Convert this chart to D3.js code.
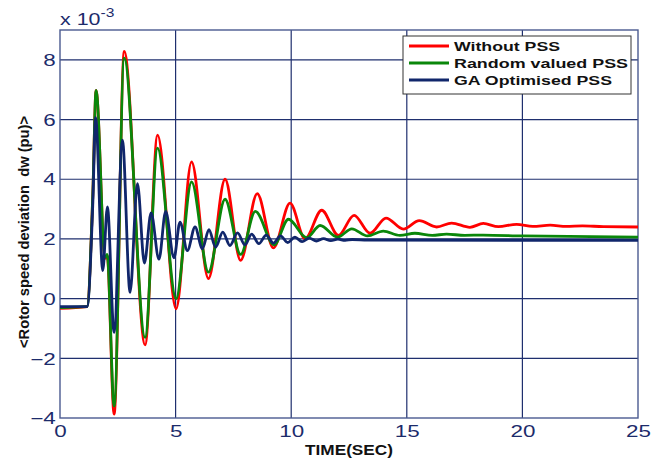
<!DOCTYPE html>
<html>
<head>
<meta charset="utf-8">
<script src="https://cdn.jsdelivr.net/npm/d3@7"></script>
<style>
  body { margin: 0; background: #fff; }
  svg { display: block; font-family: "Liberation Sans", Arial, sans-serif; }
</style>
</head>
<body>
<div id="chart"></div>
<script>
// values (time in s, deviation in 1e-3 pu)
const tWithout = [0, 1.17, 1.42, 1.56, 1.95, 2.04, 2.34, 2.78, 3.68, 4.22, 5.02, 5.69, 6.42, 7.14, 7.81, 8.53, 9.23, 9.95, 10.6, 11.32, 12.04, 12.72, 13.41, 14.1, 14.85, 15.54, 16.29, 16.94, 17.73, 18.31, 18.96, 19.75, 20.45, 21.2, 21.9, 22.6, 23.5, 25];
const vWithout = [-0.33, -0.27, 3.5, 6.98, 1.35, 1.45, -3.87, 8.28, -1.55, 5.48, -0.34, 4.58, 0.67, 4.0, 1.28, 3.52, 1.7, 3.2, 2.0, 2.96, 2.12, 2.79, 2.19, 2.7, 2.33, 2.61, 2.4, 2.53, 2.39, 2.52, 2.41, 2.49, 2.42, 2.46, 2.42, 2.44, 2.41, 2.4];

const tRandom = [0, 1.17, 1.42, 1.56, 1.95, 2.04, 2.34, 2.78, 3.68, 4.22, 5.02, 5.69, 6.42, 7.14, 7.81, 8.45, 9.26, 9.88, 10.67, 11.25, 12.0, 12.62, 13.3, 13.98, 14.7, 15.35, 16.1, 16.72, 17.5, 18.3, 20, 25];
const vRandom = [-0.3, -0.27, 3.5, 6.98, 1.39, 1.48, -3.6, 8.06, -1.3, 5.04, 0.0, 3.91, 0.89, 3.33, 1.48, 2.92, 1.8, 2.66, 2.04, 2.45, 2.06, 2.34, 2.1, 2.26, 2.12, 2.19, 2.12, 2.16, 2.12, 2.13, 2.1, 2.06];

const tGA = [0, 1.17, 1.42, 1.54, 1.85, 2.05, 2.34, 2.7, 3.03, 3.35, 3.65, 3.94, 4.28, 4.57, 4.93, 5.19, 5.51, 5.84, 6.16, 6.44, 6.73, 7.04, 7.35, 7.68, 8.0, 8.29, 8.6, 8.92, 9.23, 9.54, 9.85, 10.16, 10.47, 10.78, 11.09, 11.4, 11.71, 12.02, 12.33, 12.64, 13.3, 25];
const vGA = [-0.27, -0.27, 3.2, 6.06, 0.94, 3.07, -1.13, 5.31, 0.21, 3.85, 1.19, 2.87, 1.32, 2.92, 1.37, 2.56, 1.61, 2.4, 1.67, 2.31, 1.72, 2.23, 1.78, 2.2, 1.8, 2.16, 1.84, 2.13, 1.86, 2.1, 1.88, 2.06, 1.91, 2.03, 1.93, 2.01, 1.94, 1.99, 1.95, 1.98, 1.96, 1.95];

const seriesNames = ['Without PSS', 'Random valued PSS', 'GA Optimised PSS'];
const seriesColors = ['#ff0000', '#0a870a', '#10266b'];
const xTicks = [0, 5, 10, 15, 20, 25];
const yTicks = [-4, -2, 0, 2, 4, 6, 8];

const series = [
  { name: seriesNames[0], color: seriesColors[0], points: tWithout.map((t, i) => ({ t: t, v: vWithout[i] })) },
  { name: seriesNames[1], color: seriesColors[1], points: tRandom.map((t, i) => ({ t: t, v: vRandom[i] })) },
  { name: seriesNames[2], color: seriesColors[2], points: tGA.map((t, i) => ({ t: t, v: vGA[i] })) }
];

const containerWidth = 664;
const containerHeight = 459;
const margin = { top: 30, right: 26, bottom: 41, left: 60 };
const width = containerWidth - margin.left - margin.right;
const height = containerHeight - margin.top - margin.bottom;

const gridColor = '#1f2f6e';
const tickColor = '#1c2b6b';

const root = d3.select('#chart')
  .append('svg')
  .attr('width', containerWidth)
  .attr('height', containerHeight)
  .attr('viewBox', `0 0 ${containerWidth} ${containerHeight}`);

const svg = root.append('g')
  .attr('transform', `translate(${margin.left},${margin.top})`);

const x = d3.scaleLinear().domain([0, 25]).range([0, width]);
const y = d3.scaleLinear().domain([-4, 9]).range([height, 0]);

// grid
svg.append('g')
  .selectAll('line')
  .data(xTicks.slice(1, -1))
  .join('line')
  .attr('x1', d => x(d)).attr('x2', d => x(d))
  .attr('y1', 0).attr('y2', height)
  .attr('stroke', gridColor)
  .attr('stroke-width', 1.2);

svg.append('g')
  .selectAll('line')
  .data(yTicks.slice(1))
  .join('line')
  .attr('x1', 0).attr('x2', width)
  .attr('y1', d => y(d)).attr('y2', d => y(d))
  .attr('stroke', gridColor)
  .attr('stroke-width', 1.2);

// frame
svg.append('rect')
  .attr('width', width)
  .attr('height', height)
  .attr('fill', 'none')
  .attr('stroke', '#4a5a90')
  .attr('stroke-width', 1.4);

// axes (labels only, ticks hidden under the grid)
const xAxis = svg.append('g')
  .attr('transform', `translate(0,${height})`)
  .call(d3.axisBottom(x).tickValues(xTicks).tickSize(0).tickPadding(0));

xAxis.select('.domain').remove();
xAxis.selectAll('text')
  .attr('y', 19)
  .attr('dy', 0)
  .attr('transform', 'scale(1.4,1)')
  .attr('font-size', 16)
  .attr('font-family', '"Liberation Sans", Arial, sans-serif')
  .attr('fill', tickColor);

const yAxis = svg.append('g')
  .call(d3.axisLeft(y).tickValues(yTicks).tickSize(0).tickPadding(0));

yAxis.select('.domain').remove();
yAxis.selectAll('text')
  .attr('x', -3)
  .attr('dy', '0.36em')
  .attr('transform', 'scale(1.4,1)')
  .attr('font-size', 16)
  .attr('font-family', '"Liberation Sans", Arial, sans-serif')
  .attr('fill', tickColor);

// curves
svg.append('clipPath').attr('id', 'plot-clip')
  .append('rect')
  .attr('width', width)
  .attr('height', height);

const line = d3.line()
  .x(d => x(d.t))
  .y(d => y(d.v))
  .curve(d3.curveMonotoneX);

svg.append('g')
  .attr('clip-path', 'url(#plot-clip)')
  .selectAll('path')
  .data(series)
  .join('path')
  .attr('fill', 'none')
  .attr('stroke', d => d.color)
  .attr('stroke-width', 2.8)
  .attr('stroke-linejoin', 'round')
  .attr('d', d => line(d.points));

// legend
const legend = root.append('g')
  .attr('transform', 'translate(403,36)');

legend.append('rect')
  .attr('width', 228)
  .attr('height', 58)
  .attr('fill', '#fff')
  .attr('stroke', '#333')
  .attr('stroke-width', 1);

const legendTextLength = [106, 174, 158];

const rows = legend.selectAll('g.row')
  .data(series)
  .join('g')
  .attr('class', 'row')
  .attr('transform', (d, i) => `translate(0,${10 + i * 17})`);

rows.append('line')
  .attr('x1', 6).attr('x2', 46)
  .attr('y1', 0).attr('y2', 0)
  .attr('stroke', d => d.color)
  .attr('stroke-width', 2.8);

rows.append('text')
  .attr('x', 51)
  .attr('y', 5)
  .attr('font-size', 12.5)
  .attr('font-weight', 'bold')
  .attr('fill', '#111')
  .attr('textLength', (d, i) => legendTextLength[i])
  .attr('lengthAdjust', 'spacingAndGlyphs')
  .text(d => d.name);

// axis titles
root.append('text')
  .attr('x', margin.left + width / 2)
  .attr('y', 455)
  .attr('text-anchor', 'middle')
  .attr('font-size', 14.5)
  .attr('font-weight', 'bold')
  .attr('fill', '#111')
  .attr('textLength', 88)
  .attr('lengthAdjust', 'spacingAndGlyphs')
  .text('TIME(SEC)');

root.append('text')
  .attr('transform', 'translate(29,232) rotate(-90)')
  .attr('text-anchor', 'middle')
  .attr('font-size', 15)
  .attr('font-weight', 'bold')
  .attr('fill', '#111')
  .attr('textLength', 232)
  .attr('lengthAdjust', 'spacingAndGlyphs')
  .style('white-space', 'pre')
  .text('<Rotor speed deviation  dw (pu)>');

// exponent
const expo = root.append('text')
  .attr('transform', 'translate(60,25) scale(1.3,1)')
  .attr('font-size', 16.5)
  .attr('fill', tickColor);
expo.append('tspan').text('x 10');
expo.append('tspan')
  .attr('dy', -8)
  .attr('font-size', 12)
  .text('-3');
</script>
</body>
</html>
